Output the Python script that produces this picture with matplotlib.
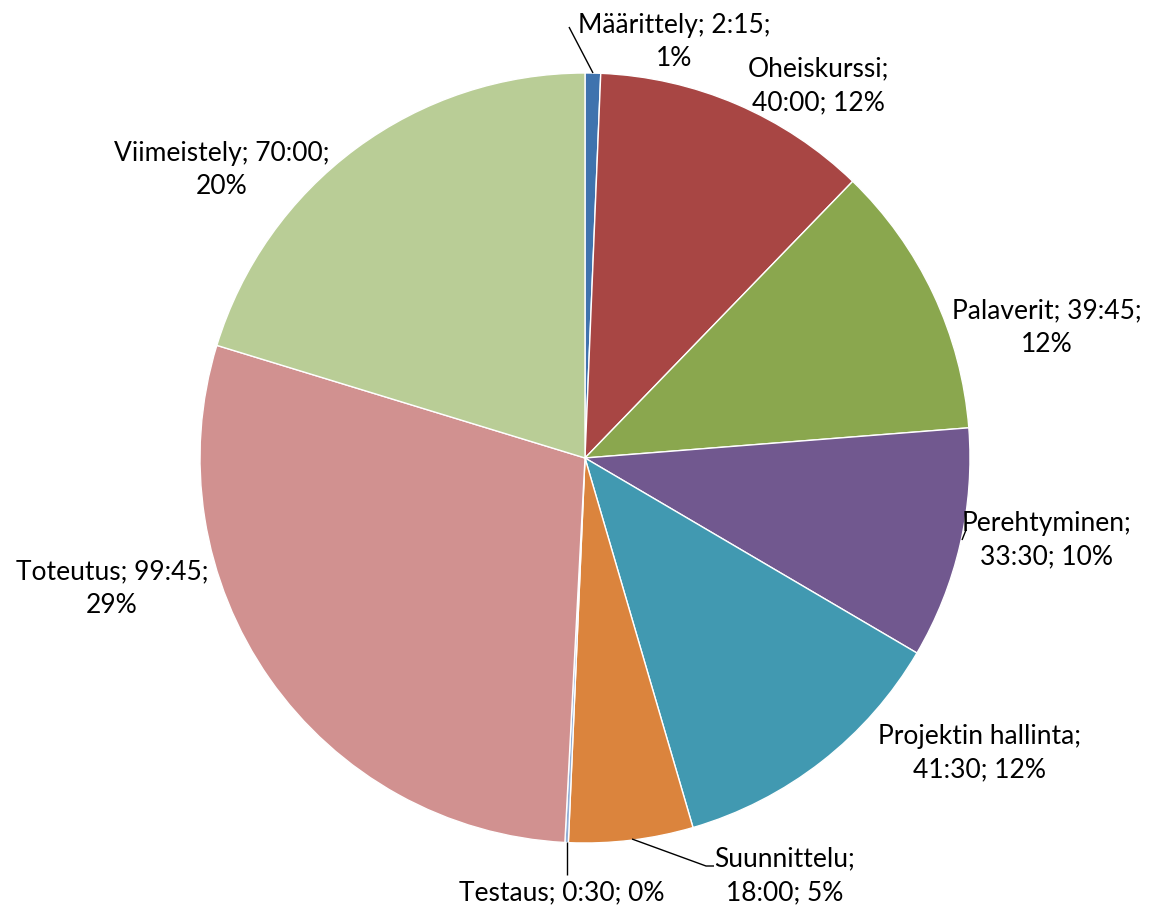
import matplotlib
matplotlib.use("Agg")
import matplotlib.pyplot as plt

categories = ["Määrittely", "Oheiskurssi", "Palaverit", "Perehtyminen",
              "Projektin hallinta", "Suunnittelu", "Testaus", "Toteutus", "Viimeistely"]
time_labels = ["2:15", "40:00", "39:45", "33:30", "41:30", "18:00", "0:30", "99:45", "70:00"]
hours = [2.25, 40.0, 39.75, 33.5, 41.5, 18.0, 0.5, 99.75, 70.0]
percent_labels = ["1%", "12%", "12%", "10%", "12%", "5%", "0%", "29%", "20%"]
colors = ["#3F73AE", "#A84644", "#8AA74E", "#71588F", "#4199B1", "#DB843D",
          "#90AED6", "#D19190", "#B9CD96"]

W, H = 1159, 912
fig = plt.figure(figsize=(W / 100, H / 100), dpi=100)
ax = fig.add_axes([0, 0, 1, 1])
ax.set_xlim(0, W)
ax.set_ylim(0, H)
ax.set_aspect("equal")
ax.axis("off")

cx, cy, r = 585, H - 459, 385
ax.pie(hours, colors=colors, startangle=90, counterclock=False,
       center=(cx, cy), radius=r,
       wedgeprops=dict(edgecolor="white", linewidth=1.0))
ax.set_xlim(0, W)
ax.set_ylim(0, H)

font = dict(family=["Lato", "DejaVu Sans"], fontsize=19, color="black",
            ha="center", va="center", linespacing=1.42)

texts = [
    (f"{categories[0]}; {time_labels[0]};\n{percent_labels[0]}", 674, 42),
    (f"{categories[1]};\n{time_labels[1]}; {percent_labels[1]}", 818, 86),
    (f"{categories[2]}; {time_labels[2]};\n{percent_labels[2]}", 1047, 328),
    (f"{categories[3]};\n{time_labels[3]}; {percent_labels[3]}", 1047, 540),
    (f"{categories[4]};\n{time_labels[4]}; {percent_labels[4]}", 979, 753),
    (f"{categories[5]};\n{time_labels[5]}; {percent_labels[5]}", 785, 876),
    (f"{categories[6]}; {time_labels[6]}; {percent_labels[6]}", 562, 893),
    (f"{categories[7]}; {time_labels[7]};\n{percent_labels[7]}", 112, 589),
    (f"{categories[8]}; {time_labels[8]};\n{percent_labels[8]}", 222, 170),
]
for s, x, y in texts:
    ax.text(x, H - y, s, **font)

def leader(pts):
    xs = [p[0] for p in pts]
    ys = [H - p[1] for p in pts]
    ax.plot(xs, ys, color="black", lw=1.0, solid_capstyle="butt")

leader([(593, 74), (569, 28)])
leader([(962, 541), (966, 531)])
leader([(632, 840), (706, 867), (714, 867)])
leader([(567, 843), (567, 876)])

fig.savefig("out.png", dpi=100)
